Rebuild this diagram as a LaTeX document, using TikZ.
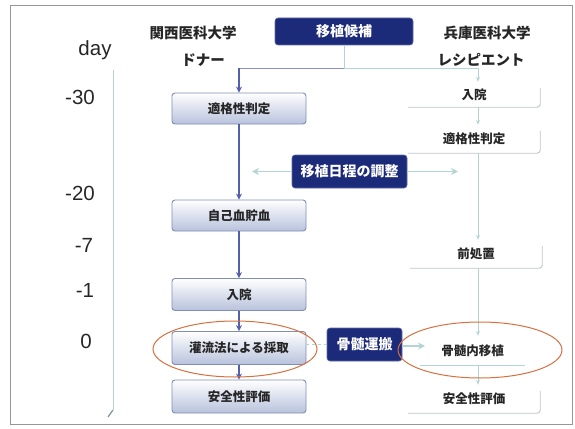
\documentclass[tikz,border=0pt]{standalone}
\usepackage{fontspec}
\setmainfont{Liberation Sans}
\newfontfamily\jp{Noto Sans CJK JP}
\usetikzlibrary{arrows.meta,calc}
\definecolor{navy}{RGB}{28,42,122}
\definecolor{lborder}{RGB}{128,142,178}
\definecolor{lfill}{RGB}{184,194,220}
\definecolor{arrblue}{RGB}{84,96,172}
\definecolor{lightc}{RGB}{178,212,212}
\definecolor{shadowc}{RGB}{190,196,200}
\definecolor{orangec}{RGB}{214,112,64}
\definecolor{framec}{RGB}{150,150,150}
\begin{document}
\begin{tikzpicture}[x=1pt,y=-1pt,
  lbox/.style={rectangle,rounded corners=3pt,draw=lborder,line width=0.9pt,top color=white,bottom color=lfill,
    minimum width=134pt,minimum height=31pt,inner sep=0pt,font=\jp\bfseries\fontsize{12.5}{14}\selectfont,text=black!85},
  nbox/.style={rectangle,rounded corners=3pt,fill=navy,draw=navy!70,line width=0.6pt,inner sep=0pt,
    font=\jp\bfseries\fontsize{14}{16}\selectfont,text=white},
  rbox/.style={rectangle,inner sep=0pt,minimum width=132pt,font=\jp\bfseries\fontsize{12.5}{14}\selectfont,text=black!85},
  rshadow/.style={draw=shadowc,line width=0.9pt,rounded corners=3pt},
  head/.style={font=\jp\bfseries\fontsize{14.5}{16}\selectfont,text=black!85},
  daylab/.style={font=\fontsize{20.5}{22}\selectfont,text=black!85},
  barr/.style={draw=arrblue,line width=1.2pt,-{Stealth[length=6pt,width=6pt]}},
  bline/.style={draw=arrblue!70,line width=1pt},
  larr/.style={draw=lightc,line width=1.6pt,-{Stealth[length=7pt,width=7pt]}},
  lline/.style={draw=lightc,line width=0.9pt},
  rarr/.style={draw=lightc,line width=0.9pt,-{Stealth[length=5pt,width=4pt]}},
  ell/.style={draw=orangec,line width=1pt}]
\useasboundingbox (0,0) rectangle (575,428);
\draw[framec,line width=0.8pt] (10,5) rectangle (572,424);

% headers
\node[head] (hl1) at (193,33) {関西医科大学};
\node[head] (hl2) at (203,60) {ドナー};
\node[head] (hr1) at (487,33) {兵庫医科大学};
\node[head] (hr2) at (481,60) {レシピエント};

% day labels
\node[daylab] (day) at (95,50) {day};
\node[daylab] (d30) at (80,97) {-30};
\node[daylab] (d20) at (80,193) {-20};
\node[daylab] (d7) at (84,245) {-7};
\node[daylab] (d1) at (85,290) {-1};
\node[daylab] (d0) at (86,341) {0};
\coordinate (tlt) at (113,70);
\coordinate (tlb) at (113,410);
\draw[lightc,line width=1pt] (tlt) -- (tlb);
\draw[lightc!70!black,line width=1.2pt] (tlb) -- ++(-5,7);

% top box
\node[nbox,minimum width=138pt,minimum height=27pt] (top) at (344,31.5) {移植候補};

% left column
\node[lbox] (L1) at (239,108.5) {適格性判定};
\node[lbox] (L2) at (239,215.5) {自己血貯血};
\node[lbox,minimum height=32pt] (L3) at (239,294.5) {入院};
\node[lbox,minimum height=33pt] (L4) at (239,348) {灌流法による採取};
\node[lbox,minimum height=33pt] (L5) at (239,396.5) {安全性評価};

% right column
\node[rbox,minimum height=25pt] (R1) at (474,94.5) {入院};
\node[rbox,minimum height=28pt] (R2) at (474,139) {適格性判定};
\node[rbox,minimum height=28pt] (R3) at (476,254) {前処置};
\node[rbox,minimum height=29pt,minimum width=105pt] (R4) at (472.5,350.5) {骨髄内移植};
\node[rbox,minimum height=28pt] (R5) at (474,399) {安全性評価};
\foreach \n in {R1,R2,R3,R5}{
  \draw[rshadow] ([yshift=-6pt]\n.north east) -- (\n.south east) -- (\n.south west);
}
\draw[lightc,line width=0.9pt] (R4.south west) -- (R4.south east);

% middle boxes
\node[nbox,minimum width=115pt,minimum height=33pt] (sched) at (349.5,171.5) {移植日程の調整};
\node[nbox,minimum width=75pt,minimum height=33pt] (trans) at (364.5,344.5) {骨髄運搬};

% top connectors
\coordinate (jl) at (239,68);
\coordinate (jr) at (478,68);
\draw[lline] (top.south) -- (top.south |- jl);
\draw[bline] (top.south |- jl) -- (jl);
\draw[barr] (jl) -- (L1.north);
\draw[lline] (top.south |- jl) -- (jr);
\draw[rarr] (jr) -- (R1.north -| jr);

% left arrows
\draw[barr] (L1.south) -- (L2.north);
\draw[barr] (L2.south) -- (L3.north);
\draw[barr] (L3.south) -- (L4.north);
\draw[barr] (L4.south) -- (L5.north);

% right arrows
\draw[rarr] (R1.south -| jr) -- (R2.north -| jr);
\draw[rarr] (R2.south -| jr) -- (R3.north -| jr);
\draw[rarr] (R3.south -| jr) -- (R4.north -| jr);
\draw[rarr] (R4.south -| jr) -- (R5.north -| jr);

% schedule arrows
\coordinate (sl) at (252,171.5);
\coordinate (sr) at (458,171.5);
\draw[larr] (sched.west) -- (sl);
\draw[larr] (sched.east) -- (sr);

% transport arrows
\coordinate (tr) at (425,346);
\draw[lline,line width=1.6pt,dashed] (L4.east |- trans.west) -- (trans.west);
\draw[larr] (trans.east |- tr) -- (tr);

% ellipses
\draw[ell] (235,349) ellipse [x radius=82pt, y radius=28pt];
\draw[ell] (480,350) ellipse [x radius=82pt, y radius=28pt];
\end{tikzpicture}
\end{document}
